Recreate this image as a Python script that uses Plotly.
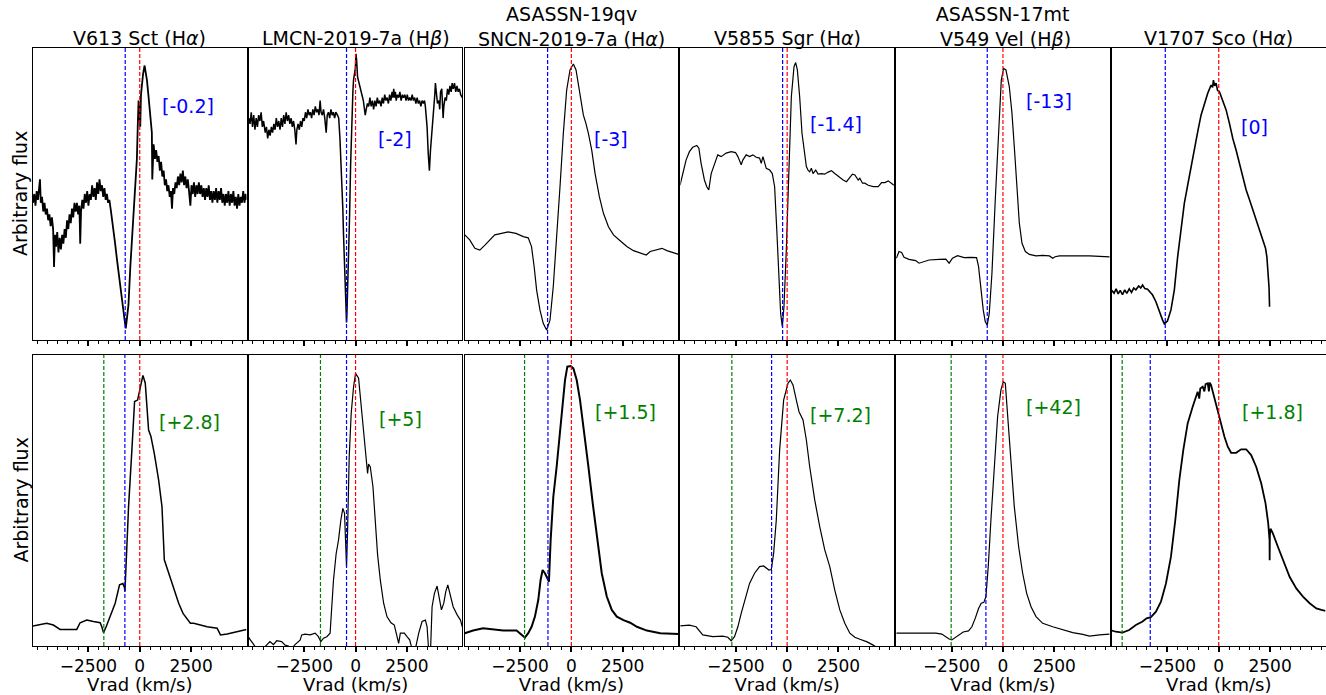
import plotly.graph_objects as go

# ---------------- data (velocity km/s, arbitrary flux) ----------------
titles = ["V613 Sct (H<i>α</i>)", "LMCN-2019-7a (H<i>β</i>)",
          "ASASSN-19qv<br>SNCN-2019-7a (H<i>α</i>)", "V5855 Sgr (H<i>α</i>)",
          "ASASSN-17mt<br> V549 Vel (H<i>β</i>)", "V1707 Sco (H<i>α</i>)"]
top_labels = ["[-0.2]", "[-2]", "[-3]", "[-1.4]", "[-13]", "[0]"]
bot_labels = ["[+2.8]", "[+5]", "[+1.5]", "[+7.2]", "[+42]", "[+1.8]"]
top_label_pos = [(2370, 80), (1940, 69), (1940, 69), (2370, 74), (2230, 82), (1740, 73)]
bot_label_pos = [(2420, 77), (2180, 78), (2620, 80.5), (2600, 79.5), (2460, 82), (2610, 80.5)]

blue_top = [-708, -440, -1156, -220, -765, -2605]
blue_bot = [-724, -440, -1140, -757, -830, -3337]
green_bot = [-1750, -1709, -2279, -2694, -2523, -4705]
red_line = 0

top1 = [(-5200,47),(-5140,50),(-5080,46),(-5020,51),(-4960,48),(-4900,52),(-4860,55),(-4820,47),(-4760,49),(-4700,44),
        (-4640,47),(-4580,43),(-4520,45),(-4460,41),(-4400,43),(-4340,39),(-4280,42),(-4220,38),(-4175,25),(-4130,36),
        (-4080,32),(-4020,37),(-3960,30),(-3900,35),(-3840,31),(-3780,36),(-3720,33),(-3660,38),(-3600,35),(-3540,41),
        (-3480,38),(-3420,43),(-3360,40),(-3300,45),(-3240,42),(-3180,47),(-3120,44),(-3060,47),(-3000,43),(-2940,46),
        (-2900,33),(-2860,44),(-2800,48),(-2740,45),(-2680,50),(-2620,47),(-2560,51),(-2500,46),(-2440,50),(-2380,48),
        (-2320,53),(-2260,49),(-2200,52),(-2140,48),(-2080,54),(-2020,50),(-1960,55),(-1900,51),(-1840,53),(-1780,49),
        (-1720,52),(-1660,48),(-1600,50),(-1540,47),(-1480,48),(-1400,44),(-1300,39),(-1200,33),(-1100,27),(-1000,21),
        (-900,16),(-800,10),(-740,7),(-680,4),(-620,7),(-550,12),(-460,25),(-380,34),(-300,42),(-220,51),(-140,62),
        (-90,75),(-57,82),(-20,78),(24,73),(60,84),(106,88),(160,91),(236,94),(300,91),(350,89),(420,84),(480,79),
        (540,75),(590,71),(610,55),(640,64),(676,67),(740,62),(800,65),(860,61),(920,63),(980,58),(1040,61),(1100,56),
        (1164,58),(1220,53),(1280,55),(1340,51),(1400,53),(1460,49),(1520,51),(1571,45),(1620,52),(1680,50),(1740,54),
        (1800,52),(1860,56),(1920,53),(1980,57),(2040,54),(2100,58),(2160,53),(2220,56),(2280,52),(2340,55),(2400,51),
        (2466,46),(2520,53),(2580,50),(2640,54),(2700,49),(2760,53),(2820,50),(2880,54),(2940,50),(3000,53),(3060,49),
        (3120,52),(3180,48),(3240,52),(3300,49),(3360,53),(3420,48),(3480,51),(3540,47),(3600,51),(3660,48),(3720,52),
        (3780,47),(3840,51),(3900,48),(3960,52),(4020,47),(4080,50),(4140,46),(4200,50),(4260,47),(4320,51),(4380,46),
        (4440,50),(4500,47),(4560,51),(4620,46),(4680,49),(4740,45),(4800,50),(4860,46),(4920,49),(4980,47),(5040,51),
        (5100,47),(5160,50),(5200,48)]

top2 = [(-5200,76),(-5140,74),(-5080,78),(-5020,73),(-4960,77),(-4900,72),(-4840,76),(-4780,73),(-4720,77),(-4660,75),
        (-4600,78),(-4540,73),(-4480,75),(-4400,71),(-4340,73),(-4280,69),(-4220,72),(-4160,70),(-4100,73),(-4040,71),
        (-3980,74),(-3920,72),(-3860,76),(-3800,73),(-3740,75),(-3680,72),(-3620,76),(-3560,73),(-3500,77),(-3440,74),
        (-3380,78),(-3320,75),(-3260,77),(-3200,74),(-3140,76),(-3080,73),(-3020,75),(-2960,72),(-2900,67),(-2860,72),
        (-2800,74),(-2740,72),(-2680,75),(-2620,73),(-2560,76),(-2500,75),(-2440,78),(-2380,76),(-2320,79),(-2260,77),
        (-2200,78),(-2140,76),(-2080,79),(-2020,77),(-1960,80),(-1900,78),(-1840,79),(-1780,77),(-1725,82),(-1680,78),
        (-1620,77),(-1560,79),(-1500,76),(-1430,71),(-1380,77),(-1320,78),(-1260,76),(-1200,79),(-1140,77),(-1080,78),
        (-1020,76),(-960,78),(-880,77),(-820,76),(-760,69),(-700,60),(-660,54),(-620,45),(-586,36),(-540,24),(-500,15),
        (-460,8),(-440,6),(-420,9),(-380,18),(-340,30),(-293,42),(-240,60),(-179,77),(-130,85),(-98,89),(-50,91),
        (-10,93),(20,98),(50,96),(100,90),(180,88),(250,86),(310,84),(380,82),(472,77),(520,79),(580,81),(640,80),
        (700,83),(760,80),(820,82),(880,79),(940,82),(1000,80),(1060,83),(1120,81),(1180,82),(1240,80),(1300,83),
        (1360,81),(1420,84),(1480,82),(1540,83),(1600,81),(1660,84),(1720,82),(1780,85),(1820,83),(1860,86),(1900,83),
        (1940,85),(1980,82),(2040,84),(2100,83),(2160,85),(2220,82),(2280,84),(2340,83),(2400,84),(2460,82),(2520,84),
        (2580,82),(2640,83),(2700,82),(2760,84),(2820,82),(2880,83),(2940,81),(3000,83),(3060,81),(3120,82),(3180,80),
        (3240,82),(3300,81),(3360,82),(3400,80),(3440,77),(3484,73),(3540,64),(3598,58),(3650,65),(3700,69),(3760,75),
        (3810,78),(3860,84),(3890,88),(3940,84),(3990,81),(4060,82),(4100,79),(4140,85),(4200,86),(4240,80),(4265,76),
        (4300,80),(4360,83),(4420,82),(4480,86),(4540,84),(4600,87),(4660,85),(4705,88),(4760,86),(4820,88),(4880,85),
        (4940,87),(5000,85),(5060,86),(5120,84),(5200,83)]

top3 = [(-5190,36),(-4950,34.3),(-4700,31.4),(-4460,30.8),(-4210,32.5),(-3960,34.2),(-3730,36),(-3400,36.5),(-3080,37),
        (-2700,36.5),(-2340,35.4),(-2100,35),(-1940,32),(-1810,25),(-1690,17),(-1530,10.3),(-1370,5.7),(-1205,3.4),
        (-1040,6.8),(-880,18.3),(-716,34),(-553,52.5),(-390,70.8),(-228,85.6),(-65,92.5),(98,94.5),(228,92.5),(340,88),
        (472,82),(586,77),(716,74),(830,70.8),(993,65),(1156,57),(1367,49),(1563,43.4),(1807,38.8),(2051,36),(2377,34),
        (2702,32),(3028,30.6),(3354,29.7),(3647,29.1),(3840,30.3),(4168,31),(4412,31.4),(4656,30.6),(4982,29.7),(5226,29.3)]

top4 = [(-5218,53),(-5090,57),(-4925,61.6),(-4760,64.5),(-4600,66),(-4400,66.6),(-4300,65.7),(-4192,60.5),(-4030,54.8),
        (-3915,52.5),(-3817,51.4),(-3700,57),(-3541,60.5),(-3380,63.4),(-3215,62.8),(-2971,64),(-2727,64.5),(-2515,64.2),
        (-2400,62.8),(-2238,60),(-2160,61.6),(-1994,63.4),(-1830,62.8),(-1670,63.4),(-1506,62.6),(-1343,62.3),(-1262,60.5),
        (-1180,62.8),(-1017,58.8),(-850,58.2),(-724,57),(-610,52.5),(-497,36.5),(-399,19.4),(-317,9.1),(-236,4.6),
        (-155,11.4),(-41,30.8),(90,59.4),(204,83.3),(334,93.6),(415,95),(497,92.5),(610,83.3),(724,70.8),(822,66.2),
        (936,59.4),(1017,58.2),(1100,57.6),(1180,58.8),(1262,57),(1390,58.2),(1506,56.8),(1670,57),(1831,56.8),(1995,57.5),
        (2157,58),(2320,57),(2483,56),(2600,55.4),(2727,54.8),(2890,54.2),(3053,55.7),(3180,56.8),(3300,56.5),(3460,54.8),
        (3540,55.4),(3671,53.7),(3785,53.7),(3948,53),(4192,52.5),(4436,52.5),(4599,53.9),(4760,53.9),(4924,54.5),
        (5087,53.7),(5200,53)]

top5 = [(-5193,28),(-5063,30.3),(-4935,30),(-4819,28.3),(-4575,27.6),(-4250,27.2),(-4086,26.3),(-3923,26.7),(-3598,27.4),
        (-3109,27.6),(-2784,27.7),(-2621,26.3),(-2458,28),(-2214,28.9),(-1888,28.2),(-1563,28.3),(-1286,28.2),(-1188,25.1),
        (-1074,17),(-960,10.3),(-863,6.3),(-765,5.1),(-667,9.1),(-537,22.8),(-374,48),(-212,73),(-81,89),(33,93),
        (146,92.5),(309,86.8),(440,77.6),(553,66.2),(667,52.5),(798,40),(928,33.1),(1091,30.3),(1286,29.3),(1612,28.8),
        (1937,29),(2263,28.8),(2426,28),(2540,28.5),(2751,28.8),(3402,28.9),(4217,28.8),(5200,28.5)]

top6 = [(-5210,17),(-5100,16),(-5000,17.5),(-4900,15.8),(-4800,17),(-4689,15.5),(-4580,17.2),(-4480,16),(-4360,17.5),
        (-4250,16.3),(-4140,17.8),(-4037,17.2),(-3900,18.5),(-3800,17.8),(-3712,18.8),(-3600,17.6),(-3468,17.4),
        (-3340,16.2),(-3223,15.4),(-3061,13.1),(-2898,9.7),(-2735,6.8),(-2650,5.5),(-2605,5.9),(-2500,6.5),(-2328,10.3),
        (-2165,17.1),(-2002,28.5),(-1840,38.8),(-1677,46.8),(-1514,53),(-1351,59.4),(-1188,65),(-1026,71.3),(-863,77),
        (-700,81),(-537,84.5),(-374,87.3),(-300,86.5),(-260,89),(-200,87),(-130,88),(-60,85.5),(33,85),(195,82.2),
        (358,78.8),(521,74.2),(684,69),(847,65),(1009,60.5),(1172,56),(1335,51.4),(1498,48),(1661,44.5),(1823,41.1),
        (1986,37.7),(2149,34.2),(2279,31.4),(2344,28.5),(2409,22.8),(2450,18),(2474,11.4)]

bot1 = [(-5200,6.9),(-4900,7.2),(-4534,7.8),(-4208,7.2),(-3883,5.7),(-3500,5.7),(-3069,5.7),(-2906,8),(-2580,8.9),
        (-2255,8.4),(-1929,8),(-1848,6.6),(-1766,4.6),(-1636,6.6),(-1441,10),(-1197,14.7),(-985,21),(-822,21.5),
        (-740,20),(-724,18.7),(-690,24),(-659,30.7),(-545,47.9),(-383,67.4),(-252,84),(-106,84.5),(0,88),(155,93),
        (269,90.3),(380,80),(431,74.2),(545,72),(708,66.2),(920,57),(1083,47.9),(1197,29.6),(1408,25),(1652,19.2),
        (1896,14.7),(2108,11.2),(2304,9.2),(2466,7.8),(2630,7.8),(2955,7.2),(3281,6.6),(3769,6.1),(3932,3.8),
        (4257,4.1),(4746,4.9),(5200,5.7)]

bot2 = [(-5200,3),(-5177,2.6),(-5000,0.9),(-4819,-1),(-4650,-2),(-4500,-1),(-4330,0.3),(-4170,1.5),(-4000,0.5),
        (-3840,1.8),(-3600,1.5),(-3430,0.3),(-3270,0),(-3100,-1),(-2950,0.5),(-2702,2),(-2620,3.8),(-2458,4.1),
        (-2210,3.8),(-1970,4.4),(-1810,3.2),(-1693,1.5),(-1560,2.7),(-1400,3.2),(-1240,4.4),(-1156,13.5),(-1074,22.7),
        (-944,31.8),(-830,36.4),(-716,43.3),(-619,47.3),(-537,45.6),(-472,36.4),(-440,27.3),(-391,38.7),(-309,65),
        (-212,80),(-98,89),(0,93.7),(147,92),(309,80),(423,70.8),(521,64),(586,59.3),(635,62.5),(716,61.6),(847,54.8),
        (960,43.3),(1074,31.3),(1205,22.7),(1368,14.7),(1530,10.1),(1726,8),(1888,7.2),(2019,3.2),(2100,0.9),(2182,4.4),
        (2377,4.4),(2507,3.2),(2637,2.1),(2751,-1),(2914,-1),(3077,4.4),(3240,8.4),(3403,8.9),(3485,6.6),(3565,-2),
        (3650,-2),(3728,13.5),(3842,18.1),(3972,20.6),(4103,14.7),(4184,12.4),(4298,14.7),(4395,18.7),(4493,21),
        (4591,18.1),(4754,13.5),(4949,10.7),(5112,8.9),(5200,6.6)]

bot3 = [(-5193,4.4),(-4786,5.3),(-4298,6.1),(-3809,5.7),(-3321,5.3),(-2670,5.3),(-2426,3.8),(-2263,2.9),(-2100,4.4),
        (-1937,6.6),(-1774,10.1),(-1612,15.8),(-1498,22.7),(-1400,26.1),(-1286,25),(-1172,23.3),(-1091,22.1),(-1009,36.4),
        (-879,51.3),(-716,61.6),(-586,70.8),(-456,82.2),(-309,91.4),(-195,96),(-33,96.2),(98,95.4),(260,91.4),(423,84.5),
        (619,74.2),(830,61.6),(1042,49),(1237,37.6),(1481,25),(1726,17),(1970,12.4),(2214,10.1),(2540,8.9),(2865,8),
        (3191,6.6),(3679,5.3),(4330,4.4),(5226,4.1)]

bot4 = [(-5218,6.9),(-4762,7.2),(-4436,6.6),(-4111,3.8),(-3623,3.2),(-3134,3.4),(-2890,3),(-2727,1.8),(-2564,3.2),
        (-2401,6.6),(-2238,11.2),(-2027,17),(-1831,21.5),(-1587,25),(-1343,27.3),(-1148,27.5),(-1017,26.7),(-887,26.1),
        (-773,26.3),(-659,31.8),(-529,43.3),(-366,67.4),(-171,84.5),(41,90.3),(155,91.4),(285,89.7),(448,84.5),
        (578,80.5),(773,77.7),(936,70.8),(1099,61.6),(1343,50.2),(1587,41),(1831,33),(2076,27.3),(2320,19.2),
        (2564,12.4),(2808,7.8),(3053,4.4),(3297,3),(3541,2.3),(3867,1.5),(4192,0.3),(4436,-0.8),(5169,-2.5)]

bot5 = [(-5193,4.4),(-4575,4.4),(-3923,4.4),(-3272,4.4),(-2979,4.1),(-2816,3.2),(-2621,2.4),(-2491,2.1),(-2328,2.9),
        (-2133,4.1),(-1937,4.8),(-1677,5.2),(-1514,6.6),(-1351,9.5),(-1188,12.9),(-1058,14.7),(-928,15),(-830,17),
        (-716,27.3),(-586,43.3),(-423,62.8),(-260,78.8),(-98,88),(16,90.8),(114,90.3),(228,80),(391,63.9),(553,47.9),
        (765,34.1),(960,25),(1156,18.1),(1368,13.5),(1612,10.1),(1937,7.8),(2426,6.6),(2914,5.5),(3402,4.6),(3891,4),
        (4217,3.4),(4705,3.8),(5193,4.1)]

bot6 = [(-5210,5.3),(-5014,4.9),(-4689,4.6),(-4363,5.5),(-4037,7.2),(-3712,8.4),(-3516,9.5),(-3305,9.9),(-3061,11.8),
        (-2816,15.2),(-2572,21.5),(-2328,30.7),(-2116,43.3),(-1921,57),(-1726,67.4),(-1514,76.5),(-1270,82.2),
        (-1026,87.4),(-950,85),(-900,88.5),(-781,89.1),(-700,87.5),(-640,90),(-537,90.3),(-480,87.5),(-440,90.5),
        (-374,89.7),(-212,85.1),(-49,81.1),(114,76.5),(277,71.9),(440,68.5),(602,66.4),(847,66.4),(1091,67.6),
        (1335,67.6),(1579,65.6),(1823,61.6),(2068,55.9),(2279,49),(2409,42.2),(2474,36.4),(2480,29.5),(2490,38),
        (2523,40.3),(2637,38.7),(2881,34.1),(3126,29.6),(3451,23.8),(3777,19.8),(4103,17),(4428,14.7),(4754,12.9),
        (5000,12.4),(5200,12.1)]

top_specs = [top1, top2, top3, top4, top5, top6]
bot_specs = [bot1, bot2, bot3, bot4, bot5, bot6]
line_widths_top = [1.8, 1.5, 1.2, 1.2, 1.2, 1.6]
line_widths_bot = [1.5, 1.2, 2.0, 1.2, 1.2, 1.8]

# ---------------- layout geometry (pixels) ----------------
W, H = 1326, 695
FONT = "DejaVu Sans"
col_left = [33 + i * 215.8 for i in range(6)]
col_w = 213.5
rows_px = [(48, 340), (355, 646)]

fig = go.Figure()
layout = dict(width=W, height=H, margin=dict(l=0, r=0, t=0, b=0),
              paper_bgcolor="white", plot_bgcolor="white",
              font=dict(family=FONT, size=19, color="black"), showlegend=False)
shapes, annots = [], []
minor_vals = [v for v in range(-5000, 5001, 500) if v not in (-2500, 0, 2500)]

for r in range(2):
    top_px, bot_px = rows_px[r]
    for c in range(6):
        n = r * 6 + c + 1
        xs = "" if n == 1 else str(n)
        x0 = col_left[c] / W
        x1 = (col_left[c] + col_w) / W
        xax = dict(
            domain=[x0, x1], range=[-5200, 5200], anchor="y" + xs,
            tickmode="array", tickvals=[-2500, 0, 2500], ticks="outside",
            ticklen=5, tickwidth=1.5, tickcolor="black",
            showticklabels=(r == 1), tickfont=dict(size=17),
            minor=dict(tickmode="array", tickvals=minor_vals, ticks="outside",
                       ticklen=3, tickwidth=1, tickcolor="black"),
            showline=True, mirror=True, linecolor="black", linewidth=1,
            showgrid=False, zeroline=False, automargin=False)
        if r == 1:
            xax["title"] = dict(text="Vrad (km/s)", standoff=0, font=dict(size=18))
        layout["xaxis" + xs] = xax
        layout["yaxis" + xs] = dict(
            domain=[1 - bot_px / H, 1 - top_px / H], range=[0, 100], anchor="x" + xs,
            showticklabels=False, ticks="", showline=True, mirror=True,
            linecolor="black", linewidth=1, showgrid=False, zeroline=False)

        spec = (top_specs if r == 0 else bot_specs)[c]
        lw = (line_widths_top if r == 0 else line_widths_bot)[c]
        fig.add_trace(go.Scatter(x=[p[0] for p in spec], y=[p[1] for p in spec],
                                 mode="lines", line=dict(color="black", width=lw),
                                 xaxis="x" + xs, yaxis="y" + xs, hoverinfo="skip"))

        dash = "4px,2px"
        vlines = [(red_line, "red")]
        if r == 0:
            vlines.append((blue_top[c], "blue"))
        else:
            vlines.append((blue_bot[c], "blue"))
            vlines.append((green_bot[c], "green"))
        for v, col in vlines:
            shapes.append(dict(type="line", xref="x" + xs, yref="y" + xs + " domain",
                               x0=v, x1=v, y0=0, y1=1,
                               line=dict(color=col, width=1.2, dash=dash)))

        if r == 0:
            lx, ly = top_label_pos[c]
            annots.append(dict(x=lx, y=ly, xref="x" + xs, yref="y" + xs, text=top_labels[c],
                               showarrow=False, xanchor="center", yanchor="middle",
                               font=dict(color="blue", size=19)))
        else:
            lx, ly = bot_label_pos[c]
            annots.append(dict(x=lx, y=ly, xref="x" + xs, yref="y" + xs, text=bot_labels[c],
                               showarrow=False, xanchor="center", yanchor="middle",
                               font=dict(color="green", size=19)))

# column titles
for c in range(6):
    two = "<br>" in titles[c]
    yc = 26.5 if two else 38
    annots.append(dict(x=(col_left[c] + col_w / 2) / W, y=1 - yc / H, xref="paper", yref="paper",
                       text=titles[c], showarrow=False, xanchor="center", yanchor="middle",
                       font=dict(size=19)))

# y labels
for top_px, bot_px in rows_px:
    annots.append(dict(x=20 / W, y=1 - (top_px + bot_px) / 2 / H, xref="paper", yref="paper",
                       text="Arbitrary flux", textangle=-90, showarrow=False,
                       xanchor="center", yanchor="middle", font=dict(size=19)))

layout["shapes"] = shapes
layout["annotations"] = annots
fig.update_layout(**layout)
fig.write_html("out.html")
